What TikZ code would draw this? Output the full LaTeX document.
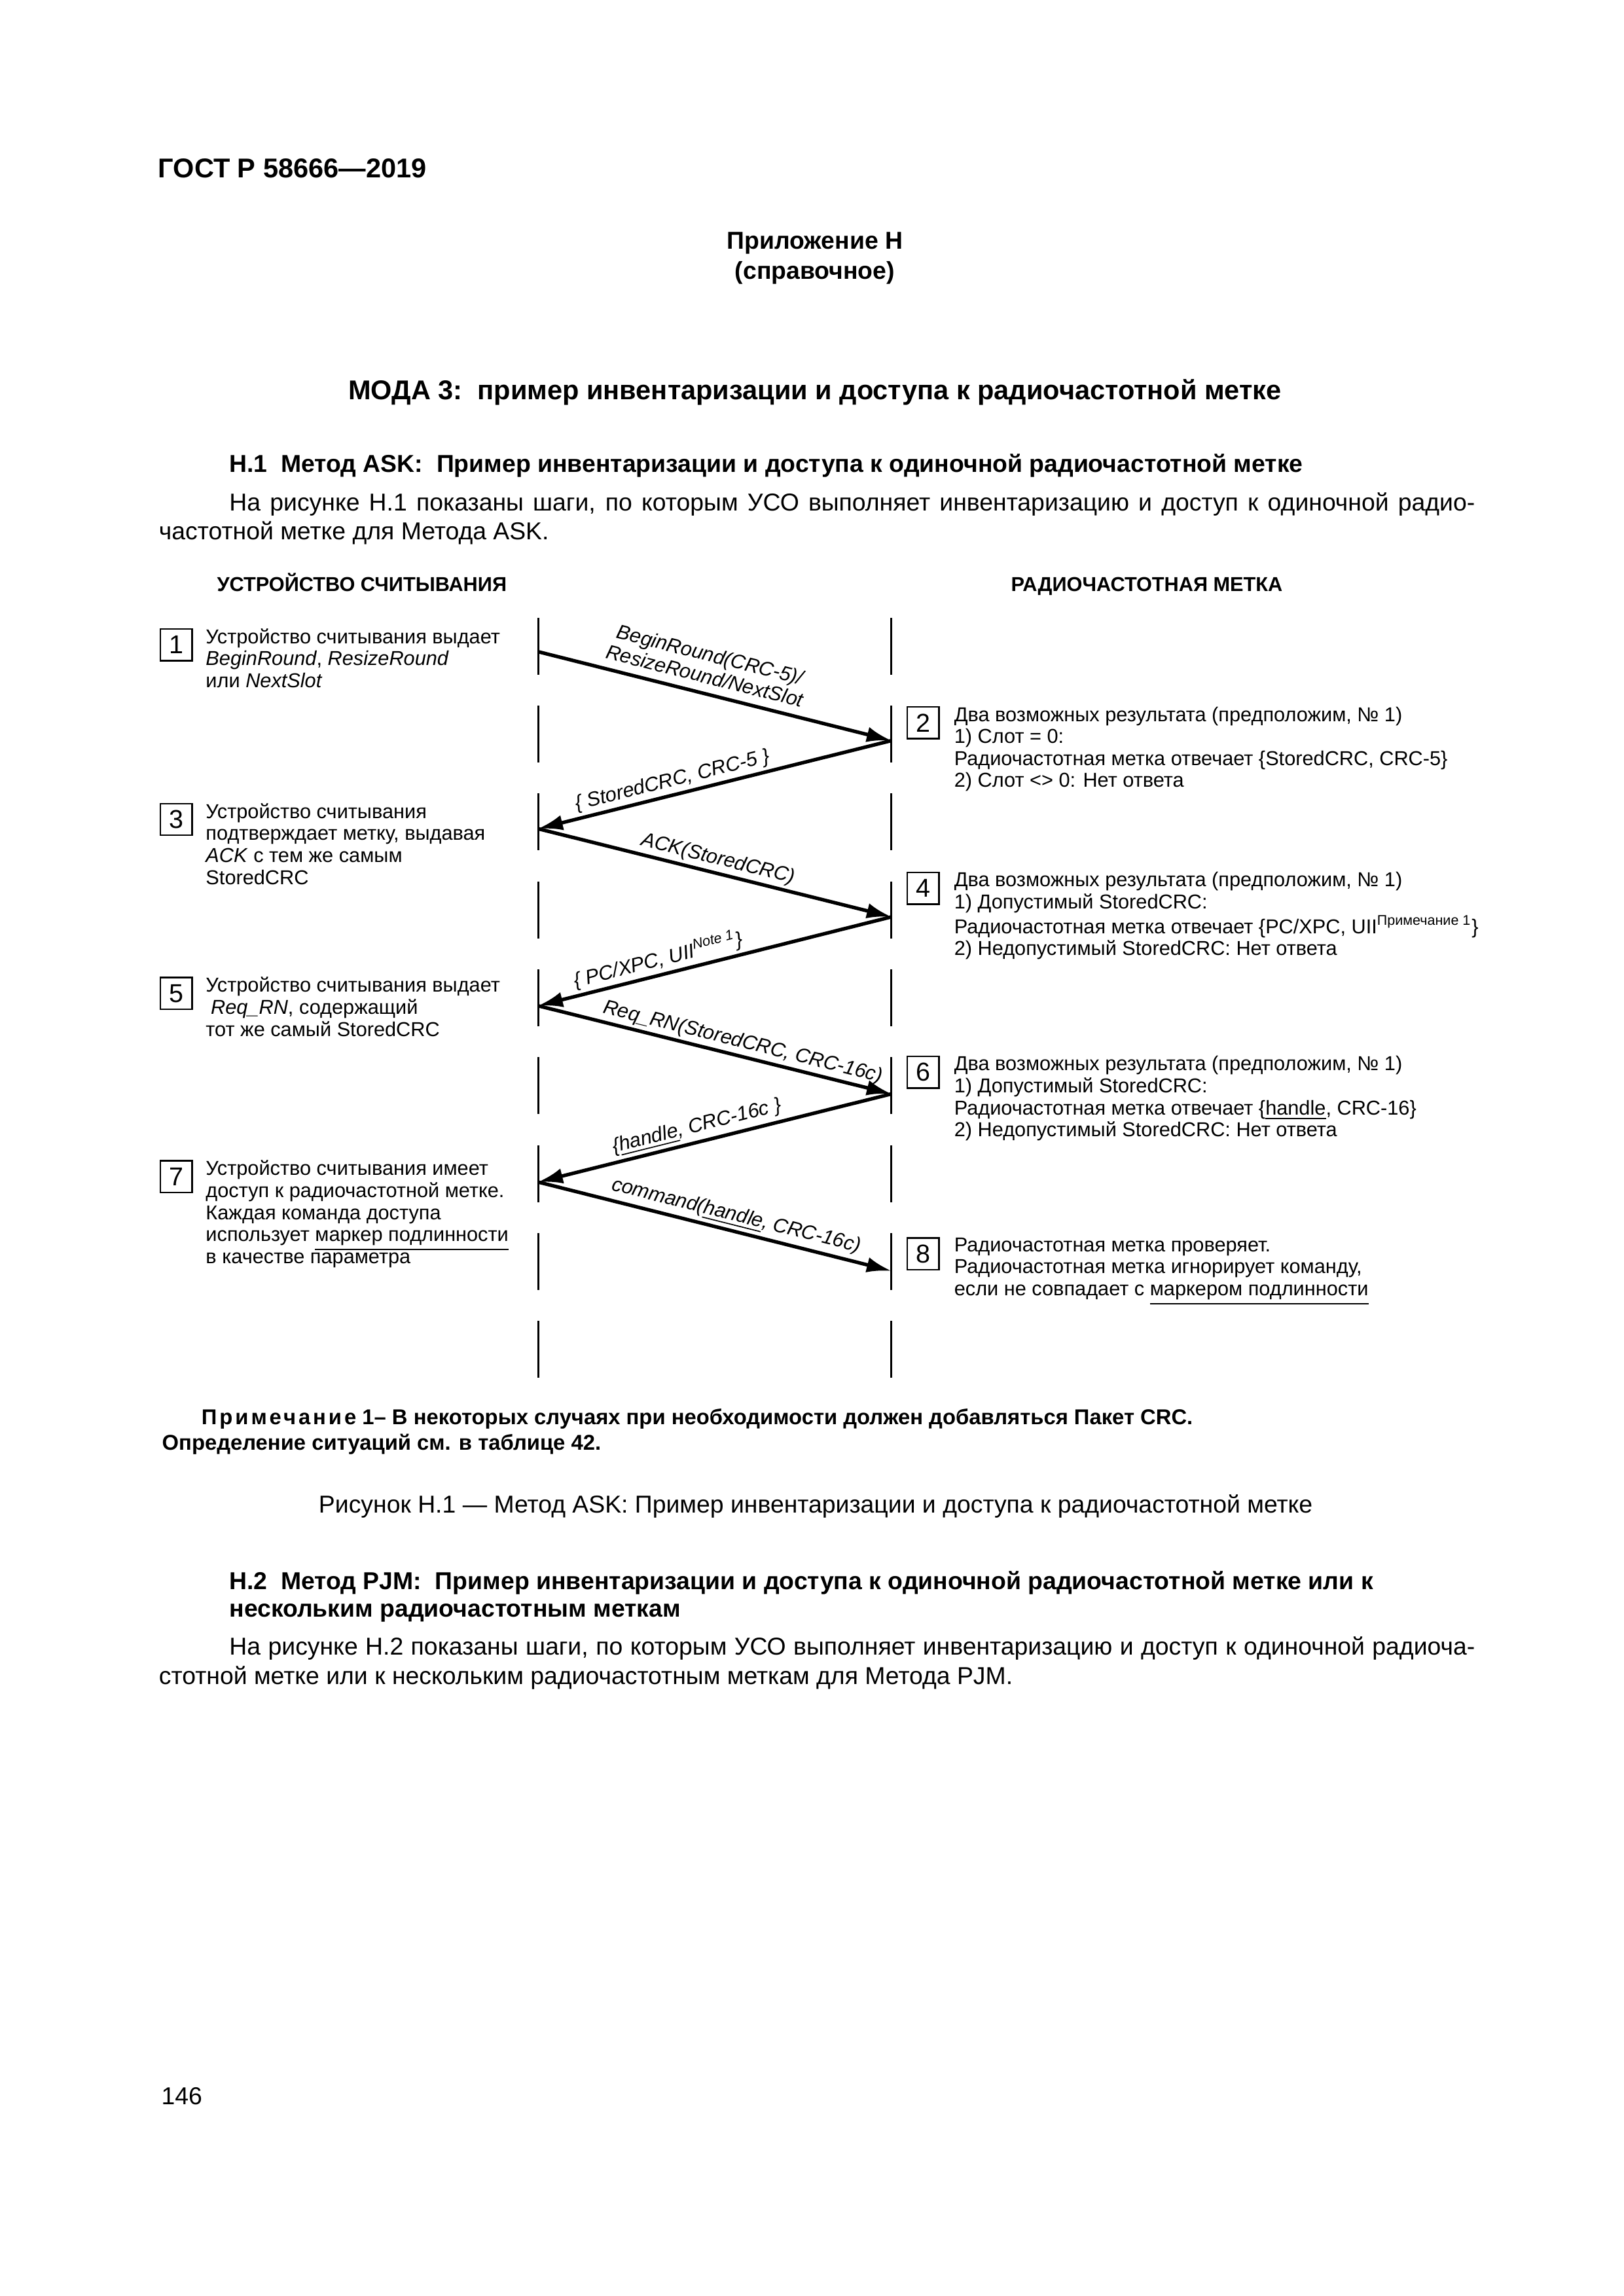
\documentclass[tikz,border=0pt]{standalone}
\usepackage{fontspec}
\setmainfont{Liberation Sans}
\usetikzlibrary{arrows.meta,positioning}

\newcommand{\dgfont}{\fontsize{7.4}{8.1}\selectfont}
\newcommand{\txfont}{\fontsize{9}{10.8}\selectfont}
\newcommand{\notefont}{\fontsize{7.9}{9.5}\selectfont}
\newcommand{\bigfont}{\fontsize{10}{12}\selectfont}

\begin{document}
\begin{tikzpicture}[
        every node/.style={inner sep=0pt},
        pagetext/.style={font=\txfont, anchor=base west},
        headtext/.style={font=\txfont\bfseries, anchor=base west},
        notetext/.style={font=\notefont\bfseries, anchor=base west},
        colhead/.style={font=\dgfont\bfseries, anchor=base west},
        stepnum/.style={
            draw,
            line width=0.6pt,
            minimum size=0.41cm,
            font=\fontsize{9.5}{10}\selectfont
        },
        steptext/.style={
            align=left,
            font=\dgfont
        },
        msg/.style={-{Latex[length=0.32cm,width=0.2cm]}, line width=1.3pt},
        msglabel/.style={sloped, above, inner sep=1pt, font=\dgfont\itshape},
        lifeline/.style={line width=0.7pt, dash pattern=on 0.737cm off 0.4cm}
    ]

    \fill[white] (0,0) rectangle (21,-29.7);
    \useasboundingbox (0,0) rectangle (21,-29.7);

    % Page head
    \node[headtext, font=\bigfont\bfseries] (gost) at (2.04,-2.30) {ГОСТ Р 58666—2019};
    \node[font=\txfont\bfseries, anchor=base] (annex) at (10.54,-3.22) {Приложение Н};
    \node[font=\txfont\bfseries, anchor=base] (annextype) at (10.54,-3.61) {(справочное)};
    \node[font=\bigfont\bfseries, anchor=base] (title) at (10.54,-5.17) {МОДА 3:\ \ пример инвентаризации и доступа к радиочастотной метке};
    \node[headtext] (sec1) at (2.96,-6.11) {Н.1\ \ Метод ASK:\ \ Пример инвентаризации и доступа к одиночной радиочастотной метке};
    \node[pagetext] (par1a) at (2.96,-6.61) {\makebox[16.11cm][s]{На рисунке Н.1 показаны шаги, по которым УСО выполняет инвентаризацию и доступ к одиночной радио-}};
    \node[pagetext] (par1b) at (2.05,-6.98) {частотной метке для Метода ASK.};

    % Column heads
    \node[colhead] (readerhead) at (2.80,-7.65) {УСТРОЙСТВО СЧИТЫВАНИЯ};
    \node[colhead] (taghead) at (13.07,-7.65) {РАДИОЧАСТОТНАЯ МЕТКА};

    % Lifelines
    \coordinate (readertop) at (6.96,-7.99);
    \coordinate (readerbot) at (6.96,-17.83);
    \coordinate (tagtop) at (11.53,-7.99);
    \coordinate (tagbot) at (11.53,-17.83);
    \draw[lifeline] (readertop) -- (readerbot);
    \draw[lifeline] (tagtop) -- (tagbot);

    % Message points
    \coordinate (rd1) at (6.96,-8.43);
    \coordinate (tg1) at (11.53,-9.58);
    \coordinate (rd2) at (6.96,-10.72);
    \coordinate (tg2) at (11.53,-11.86);
    \coordinate (rd3) at (6.96,-13.01);
    \coordinate (tg3) at (11.53,-14.15);
    \coordinate (rd4) at (6.96,-15.29);
    \coordinate (tg4) at (11.53,-16.44);

    % Messages
    \draw[msg] (rd1) -- node[msglabel, pos=0.46, inner sep=3pt, align=center] (m1) {BeginRound(CRC-5)/\\ResizeRound/NextSlot} (tg1);
    \draw[msg] (tg1) -- node[msglabel, pos=0.61] (m2) {\{ StoredCRC, CRC-5 \}} (rd2);
    \draw[msg] (rd2) -- node[msglabel, pos=0.50] (m3) {ACK(StoredCRC)} (tg2);
    \draw[msg] (tg2) -- node[msglabel, pos=0.65] (m4) {\{ PC/XPC, UII\textsuperscript{Note 1}\}} (rd3);
    \draw[msg] (rd3) -- node[msglabel, pos=0.57] (m5) {Req\_RN(StoredCRC, CRC-16c)} (tg3);
    \draw[msg] (tg3) -- node[msglabel, pos=0.54] (m6) {\{\underline{handle}, CRC-16c \}} (rd4);
    \draw[msg] (rd4) -- node[msglabel, pos=0.55] (m7) {command(\underline{handle}, CRC-16c)} (tg4);

    % Reader steps
    \node[stepnum] (b1) at (2.28,-8.34) {1};
    \node[steptext, right=0.16cm of b1.north east, anchor=north west] (s1) {Устройство считывания выдает\\\textit{BeginRound}, \textit{ResizeRound}\\или \textit{NextSlot}};
    \node[stepnum] (b3) at (2.28,-10.60) {3};
    \node[steptext, right=0.16cm of b3.north east, anchor=north west] (s3) {Устройство считывания\\подтверждает метку, выдавая\\\textit{ACK} с тем же самым\\StoredCRC};
    \node[stepnum] (b5) at (2.28,-12.85) {5};
    \node[steptext, right=0.16cm of b5.north east, anchor=north west] (s5) {Устройство считывания выдает\\\hspace{0.25em}\textit{Req\_RN}, содержащий\\тот же самый StoredCRC};
    \node[stepnum] (b7) at (2.28,-15.22) {7};
    \node[steptext, right=0.16cm of b7.north east, anchor=north west] (s7) {Устройство считывания имеет\\доступ к радиочастотной метке.\\Каждая команда доступа\\использует \underline{маркер подлинности}\\в качестве параметра};

    % Tag steps
    \node[stepnum] (b2) at (11.94,-9.35) {2};
    \node[steptext, right=0.18cm of b2.north east, anchor=north west] (s2) {Два возможных результата (предположим, № 1)\\1) Слот = 0:\\Радиочастотная метка отвечает \{StoredCRC, CRC-5\}\\2) Слот \textless\textgreater{} 0: Нет ответа};
    \node[stepnum] (b4) at (11.94,-11.49) {4};
    \node[steptext, right=0.18cm of b4.north east, anchor=north west] (s4) {Два возможных результата (предположим, № 1)\\1) Допустимый StoredCRC:\\Радиочастотная метка отвечает \{PC/XPC, UII\textsuperscript{Примечание 1}\}\\2) Недопустимый StoredCRC: Нет ответа};
    \node[stepnum] (b6) at (11.94,-13.87) {6};
    \node[steptext, right=0.18cm of b6.north east, anchor=north west] (s6) {Два возможных результата (предположим, № 1)\\1) Допустимый StoredCRC:\\Радиочастотная метка отвечает \{\underline{handle}, CRC-16\}\\2) Недопустимый StoredCRC: Нет ответа};
    \node[stepnum] (b8) at (11.94,-16.22) {8};
    \node[steptext, right=0.18cm of b8.north east, anchor=north west] (s8) {Радиочастотная метка проверяет.\\Радиочастотная метка игнорирует команду,\\если не совпадает с \underline{маркером подлинности}};

    % Note and caption
    \node[notetext] (note1a) at (2.60,-18.43) {{\addfontfeature{LetterSpace=12}Примечание} 1– В некоторых случаях при необходимости должен добавляться Пакет CRC.};
    \node[notetext] (note1b) at (2.09,-18.76) {Определение ситуаций см. в таблице 42.};
    \node[font=\txfont, anchor=base] (caption) at (10.55,-19.57) {Рисунок Н.1 — Метод ASK: Пример инвентаризации и доступа к радиочастотной метке};

    % Next section
    \node[headtext] (sec2a) at (2.96,-20.56) {Н.2\ \ Метод PJM:\ \ Пример инвентаризации и доступа к одиночной радиочастотной метке или к};
    \node[headtext] (sec2b) at (2.96,-20.92) {нескольким радиочастотным меткам};
    \node[pagetext] (par2a) at (2.96,-21.41) {\makebox[16.11cm][s]{На рисунке Н.2 показаны шаги, по которым УСО выполняет инвентаризацию и доступ к одиночной радиоча-}};
    \node[pagetext] (par2b) at (2.05,-21.79) {стотной метке или к нескольким радиочастотным меткам для Метода PJM.};

    \node[pagetext] (pagenum) at (2.08,-27.22) {146};

\end{tikzpicture}
\end{document}
